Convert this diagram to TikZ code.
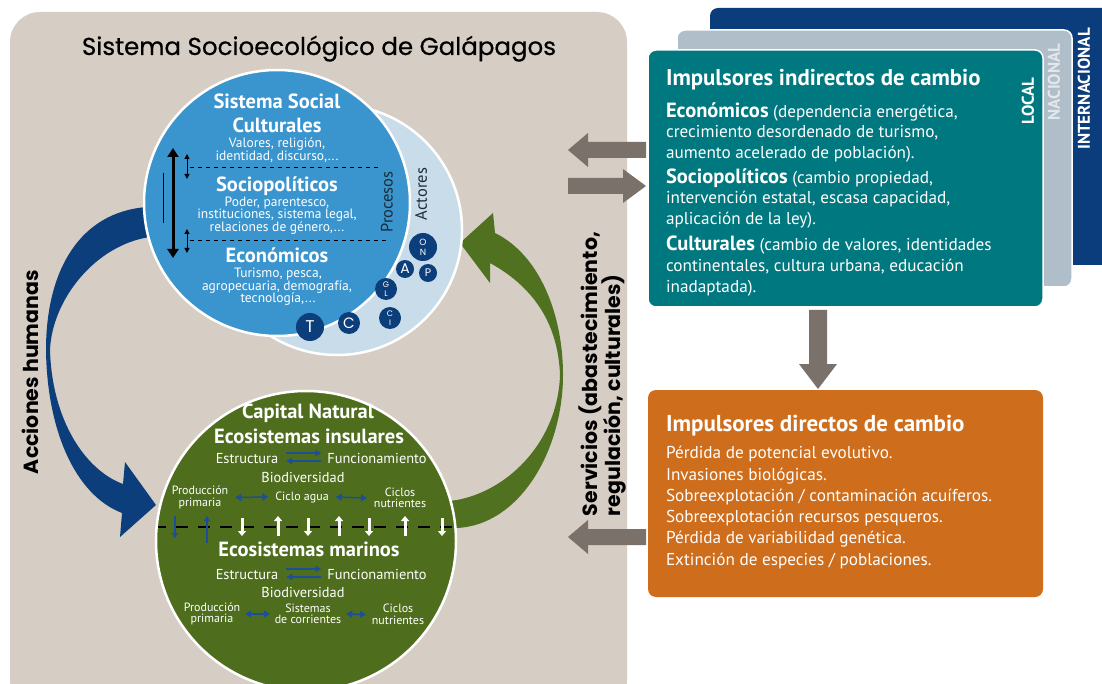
\documentclass[tikz,border=0pt]{standalone}
\usepackage{fontspec}
\setmainfont{PT Sans}
\newfontfamily\gothic{Poppins}
\newfontfamily\gothicmed[FakeBold=0.6]{Poppins}
\usetikzlibrary{arrows.meta}
\definecolor{beige}{HTML}{D6CEC5}
\definecolor{blueC}{HTML}{3A94CE}
\definecolor{lightC}{HTML}{C9DCEA}
\definecolor{navy}{HTML}{0C3E7B}
\definecolor{greenC}{HTML}{4E6D1D}
\definecolor{greenA}{HTML}{507120}
\definecolor{tealC}{HTML}{00787F}
\definecolor{grayCard}{HTML}{B0BEC9}
\definecolor{darkCard}{HTML}{0B3C7B}
\definecolor{orangeC}{HTML}{CE6D1C}
\definecolor{agray}{HTML}{7A716A}
\definecolor{sblue}{HTML}{1D4E9B}
\definecolor{dtext}{HTML}{1E2B36}
\definecolor{natext}{HTML}{E2E7EC}
\newcommand\setfs[2]{\fontsize{#1pt}{#2pt}\selectfont}
\newcommand\bw[1]{{\bfseries\setfs{20.5}{22}#1}}
\begin{document}
\begin{tikzpicture}[x=1pt,y=-1pt,
  every node/.style={inner sep=0pt, outer sep=0pt},
  wt/.style={text=white},
  hd/.style={wt, anchor=base, font=\bfseries\setfs{20.5}{22}},
  bd/.style={wt, anchor=base, font=\setfs{13.5}{14}},
  gt/.style={wt, anchor=base, font=\setfs{14.4}{16}},
  sm/.style={wt, align=center, font=\setfs{12}{11.5}},
  tl/.style={wt, anchor=base west, font=\setfs{17.2}{20}},
  dotc/.style={circle, fill=navy, text=white, align=center, font=\gothic},
  sarr/.style={sblue, line width=1.5pt, -{Triangle[length=6pt,width=6pt]}},
  darr/.style={sblue, line width=1.5pt, {Triangle[length=6pt,width=7pt]}-{Triangle[length=6pt,width=7pt]}},
  warr/.style={white, line width=3pt, -{Triangle[length=5pt,width=8pt]}},
  barr/.style={sblue, line width=1.5pt, -{Triangle[length=5pt,width=6pt]}},
  rot/.style={rotate=90, anchor=base west, font=\gothic\bfseries\setfs{20.5}{22}}
]
\useasboundingbox (0,0) rectangle (1102,684);
\fill[white] (0,0) rectangle (1102,684);
% panel
\fill[beige, rounded corners=30pt] (10,12) rectangle (627,710);
\node[anchor=base, font=\gothicmed\setfs{24.5}{26}] (title) at (319,55) {Sistema Socioecológico de Galápagos};

% big arrows
\fill[navy] (175,200) -- (147,207) .. controls (80,212) and (46,270) .. (46,350)
  .. controls (47,430) and (75,495) .. (122,513) -- (120,537) -- (156,505) -- (125,462) -- (123,484)
  .. controls (85,470) and (52,420) .. (50,350) .. controls (52,300) and (95,245) .. (150,237) -- (175,233) -- cycle;
\fill[greenA] (440,502) -- (457,500) .. controls (510,490) and (558,440) .. (560,375)
  .. controls (558,320) and (530,285) .. (490,263) -- (490,283) -- (460,243) -- (493,213) -- (495,233)
  .. controls (540,255) and (563,315) .. (563,375) .. controls (563,450) and (520,525) .. (457,528) -- (440,532) -- cycle;

% circles
\draw[white, line width=2.5pt, fill=lightC] (337,230) circle[radius=125pt];
\draw[white, line width=2.5pt, fill=blueC] (277,203) circle[radius=133pt];
\draw[white, line width=2.5pt, fill=greenC] (306,541) circle[radius=150pt];

% social system text
\node[hd] (ss) at (277,109) {Sistema Social};
\node[hd] (cu) at (277,133) {Culturales};
\node[bd] (cu1) at (277,147.5) {Valores, religión,};
\node[bd] (cu2) at (277,161) {identidad, discurso,...};
\node[hd] (so) at (277,192) {Sociopolíticos};
\node[bd] (so1) at (277,206.5) {Poder, parentesco,};
\node[bd] (so2) at (277,219) {instituciones, sistema legal,};
\node[bd] (so3) at (277,231.5) {relaciones de género,...};
\node[hd] (ec) at (277,263) {Económicos};
\node[bd] (ec1) at (278,277.5) {Turismo, pesca,};
\node[bd] (ec2) at (277,290.5) {agropecuaria, demografía,};
\node[bd] (ec3) at (278,303) {tecnología,...};
\draw[black, line width=0.7pt, dash pattern=on 4pt off 4pt] (190,167) -- (380,167);
\draw[black, line width=0.7pt, dash pattern=on 4pt off 4pt] (190,240) -- (390,240);
\draw[black, line width=3pt, {Triangle[length=9pt,width=11pt]}-{Triangle[length=9pt,width=11pt]}] (173,148) -- (173,258);
\draw[black, line width=1pt, {Triangle[length=5pt,width=5pt]}-{Triangle[length=5pt,width=5pt]}] (187,154) -- (187,179);
\draw[black, line width=1pt, {Triangle[length=5pt,width=5pt]}-{Triangle[length=5pt,width=5pt]}] (187,229) -- (187,253);
\draw[black, line width=0.8pt] (163,173) -- (163,223);
\node[rotate=90, text=dtext, font=\setfs{16.5}{18}] (proc) at (387,202) {Procesos};
\node[rotate=90, text=dtext, font=\setfs{16.5}{18}] (act) at (421,194) {Actores};
\node[dotc, minimum size=28pt, font=\gothic\setfs{9}{10}] (on) at (423,247) {O\\N};
\node[dotc, minimum size=18pt, font=\gothic\setfs{14}{14}] (a) at (405,269) {A};
\node[dotc, minimum size=18pt, font=\gothic\setfs{11}{11}] (p) at (428,273) {P};
\node[dotc, minimum size=22pt, font=\gothic\setfs{8}{9}] (gl) at (386,289) {G\\L};
\node[dotc, minimum size=22pt, font=\gothic\setfs{8}{9}] (ci) at (390,318) {C\\I};
\node[dotc, minimum size=22pt, font=\gothic\setfs{15}{15}] (c) at (349,323) {C};
\node[dotc, minimum size=28pt, font=\gothic\setfs{17}{17}] (t) at (310,327) {T};

% natural capital text
\node[hd] (cn) at (308,418) {Capital Natural};
\node[hd] (ei) at (309,443) {Ecosistemas insulares};
\node[gt] (es1) at (247,463) {Estructura};
\node[gt] (fu1) at (377,463) {Funcionamiento};
\node[gt] (bi1) at (303,482) {Biodiversidad};
\node[sm] (pp1) at (200,497.5) {Producción\\primaria};
\node[sm] (ca1) at (302,497) {Ciclo agua};
\node[sm] (cn1) at (400,498) {Ciclos\\nutrientes};
\draw[sarr] ([xshift=8pt,yshift=10pt]es1.base east) -- ([xshift=-6pt,yshift=10pt]fu1.base west);
\draw[sarr] ([xshift=-6pt,yshift=2pt]fu1.base west) -- ([xshift=8pt,yshift=2pt]es1.base east);
\draw[darr] ([xshift=7pt]pp1.east) -- ([xshift=-7pt]ca1.west);
\draw[darr] ([xshift=7pt]ca1.east) -- ([xshift=-7pt]cn1.west);

\draw[black, line width=2.5pt, dash pattern=on 12pt off 10pt, dash phase=4pt] (158,527) -- (455,527);
\draw[barr] (175,516) -- (175,538);
\draw[barr] (207,543) -- (207,516);
\draw[warr] (242,518) -- (242,536);
\draw[warr] (278,536) -- (278,516);
\draw[warr] (308,518) -- (308,536);
\draw[warr] (339,536) -- (339,516);
\draw[warr] (369,518) -- (369,536);
\draw[warr] (405,536) -- (405,516);
\draw[warr] (442,518) -- (442,536);

\node[hd] (em) at (309,556) {Ecosistemas marinos};
\node[gt] (es2) at (247,579) {Estructura};
\node[gt] (fu2) at (377,579) {Funcionamiento};
\node[gt] (bi2) at (303,597) {Biodiversidad};
\node[sm] (pp2) at (212,614) {Producción\\primaria};
\node[sm] (sc2) at (308,614) {Sistemas\\de corrientes};
\node[sm] (cn2) at (398,614.5) {Ciclos\\nutrientes};
\draw[sarr] ([xshift=8pt,yshift=10pt]es2.base east) -- ([xshift=-6pt,yshift=10pt]fu2.base west);
\draw[sarr] ([xshift=-6pt,yshift=2pt]fu2.base west) -- ([xshift=8pt,yshift=2pt]es2.base east);
\draw[darr] ([xshift=5pt]pp2.east) -- ([xshift=-5pt]sc2.west);
\draw[darr] ([xshift=5pt]sc2.east) -- ([xshift=-6pt]cn2.west);

% rotated labels
\node[rot] (acc) at (38,474) {Acciones humanas};
\node[rot] (serv1) at (597,516) {Servicios (abastecimiento,};
\node[rot] (serv2) at (620,516) {regulación, culturales)};

% right cards
\fill[darkCard, rounded corners=8pt] (710,8) rectangle (1120,265);
\draw[white, line width=1.5pt, fill=grayCard, rounded corners=8pt] (677,30) rectangle (1072,287);
\draw[white, line width=1.5pt, fill=tealC, rounded corners=8pt] (648,50) rectangle (1043,307);
\node[rotate=90, text=white, font=\bfseries\setfs{17}{18}] (loc) at (1028,101) {LOCAL};
\node[rotate=90, text=natext, font=\bfseries\setfs{17}{18}] (nac) at (1054,82) {NACIONAL};
\node[rotate=90, text=white, font=\bfseries\setfs{17}{18}] (int) at (1084,89) {INTERNACIONAL};

\node[tl, font=\bfseries\setfs{22.8}{24}] (it) at (666,86) {Impulsores indirectos de cambio};
\node[tl] (i1) at (666,118) {\bw{Económicos} (dependencia energética,};
\node[tl] (i2) at (666,138) {crecimiento desordenado de turismo,};
\node[tl] (i3) at (666,159) {aumento acelerado de población).};
\node[tl] (i4) at (666,184) {\bw{Sociopolíticos} (cambio propiedad,};
\node[tl] (i5) at (666,204) {intervención estatal, escasa capacidad,};
\node[tl] (i6) at (666,225) {aplicación de la ley).};
\node[tl] (i7) at (666,251) {\bw{Culturales} (cambio de valores, identidades};
\node[tl] (i8) at (666,272) {continentales, cultura urbana, educación};
\node[tl] (i9) at (666,293) {inadaptada).};

\fill[orangeC, rounded corners=8pt] (648,390) rectangle (1043,597);
\node[tl, font=\bfseries\setfs{23}{24}] (dt) at (666,431) {Impulsores directos de cambio};
\node[tl] (d1) at (666,458) {Pérdida de potencial evolutivo.};
\node[tl] (d2) at (666,480) {Invasiones biológicas.};
\node[tl] (d3) at (666,501) {Sobreexplotación / contaminación acuíferos.};
\node[tl] (d4) at (666,522) {Sobreexplotación recursos pesqueros.};
\node[tl] (d5) at (666,543) {Pérdida de variabilidad genética.};
\node[tl] (d6) at (666,565) {Extinción de especies / poblaciones.};

% gray arrows
\fill[agray] (646,142) -- (588,142) -- (588,133) -- (568,150) -- (588,167) -- (588,158) -- (646,158) -- cycle;
\fill[agray] (568,178) -- (623,178) -- (623,169) -- (646,186) -- (623,203) -- (623,194) -- (568,194) -- cycle;
\fill[agray] (809,310) -- (827,310) -- (827,364) -- (837,364) -- (818,389) -- (799,364) -- (809,364) -- cycle;
\fill[agray] (646,529) -- (588,529) -- (588,520) -- (568,537) -- (588,554) -- (588,545) -- (646,545) -- cycle;
\end{tikzpicture}
\end{document}
